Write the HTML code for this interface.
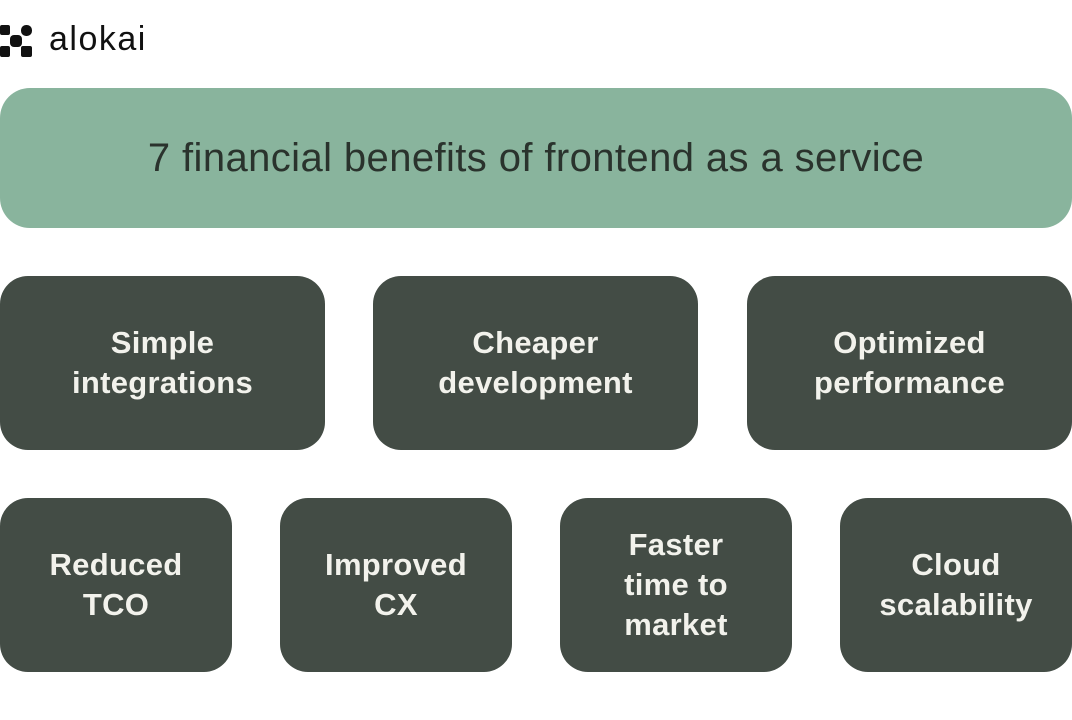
<!DOCTYPE html>
<html><head><style>
body{margin:0;width:1072px;height:720px;background:#fff;position:relative;overflow:hidden;font-family:"Liberation Sans",sans-serif}
.b{position:absolute;background:#434c45;border-radius:28px;color:#f2f2ec;font-weight:bold;font-size:31px;letter-spacing:0.3px;line-height:40px;display:flex;align-items:center;justify-content:center;text-align:center}
.t{position:absolute;left:0;top:88px;width:1072px;height:140px;background:#89b49d;border-radius:30px;color:#2a332d;font-size:40px;letter-spacing:0.4px;display:flex;align-items:center;justify-content:center}
.sq{position:absolute;background:#111;border-radius:2px}
</style></head><body>
<div class="sq" style="left:0;top:25px;width:10px;height:10px"></div>
<div class="sq" style="left:21px;top:25px;width:11px;height:11px;border-radius:5px"></div>
<div class="sq" style="left:10px;top:35px;width:12px;height:12px;border-radius:4px"></div>
<div class="sq" style="left:0;top:46px;width:10px;height:11px"></div>
<div class="sq" style="left:21px;top:46px;width:11px;height:11px"></div>
<div style="position:absolute;left:49px;top:20px;font-size:34px;color:#111;letter-spacing:1.5px">alokai</div>
<div class="t">7 financial benefits of frontend as a service</div>
<div class="b" style="left:0;top:276px;width:325px;height:174px">Simple<br>integrations</div>
<div class="b" style="left:373px;top:276px;width:325px;height:174px">Cheaper<br>development</div>
<div class="b" style="left:747px;top:276px;width:325px;height:174px">Optimized<br>performance</div>
<div class="b" style="left:0;top:498px;width:232px;height:174px">Reduced<br>TCO</div>
<div class="b" style="left:280px;top:498px;width:232px;height:174px">Improved<br>CX</div>
<div class="b" style="left:560px;top:498px;width:232px;height:174px">Faster<br>time to<br>market</div>
<div class="b" style="left:840px;top:498px;width:232px;height:174px">Cloud<br>scalability</div>
</body></html>
